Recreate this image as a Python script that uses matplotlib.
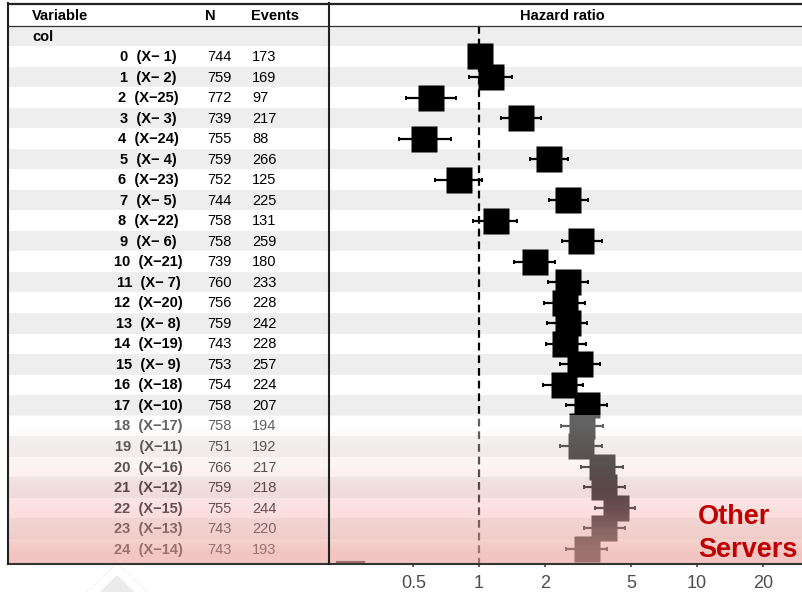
import numpy as np
import matplotlib
matplotlib.use('Agg')
import matplotlib.pyplot as plt
from matplotlib.ticker import NullLocator

# table data
rows = list(range(25))
codes = [1, 2, 25, 3, 24, 4, 23, 5, 22, 6, 21, 7, 20, 8, 19, 9, 18, 10, 17, 11, 16, 12, 15, 13, 14]
n_obs = [744, 759, 772, 739, 755, 759, 752, 744, 758, 758, 739, 760, 756,
         759, 743, 753, 754, 758, 758, 751, 766, 759, 755, 743, 743]
events = [173, 169, 97, 217, 88, 266, 125, 225, 131, 259, 180, 233, 228,
          242, 228, 257, 224, 207, 194, 192, 217, 218, 244, 220, 193]

# hazard ratios and 95% CI
hr = [1.01, 1.13, 0.60, 1.56, 0.56, 2.09, 0.81, 2.56, 1.19, 2.95, 1.80, 2.55, 2.47,
      2.55, 2.49, 2.89, 2.44, 3.12, 2.98, 2.95, 3.66, 3.76, 4.24, 3.76, 3.11]
hr_lo = [0.90, 0.90, 0.46, 1.26, 0.43, 1.71, 0.63, 2.09, 0.94, 2.41, 1.44, 2.07, 1.99,
         2.06, 2.02, 2.35, 1.97, 2.51, 2.38, 2.35, 2.93, 3.03, 3.40, 3.03, 2.50]
hr_hi = [1.13, 1.42, 0.78, 1.92, 0.74, 2.56, 1.03, 3.16, 1.50, 3.66, 2.24, 3.15, 3.05,
         3.13, 3.09, 3.57, 3.01, 3.85, 3.70, 3.66, 4.56, 4.66, 5.19, 4.68, 3.88]

x_ticks = [0.5, 1, 2, 5, 10, 20]
x_labels = ['0.5', '1', '2', '5', '10', '20']

W, H = 803, 592
plt.rcParams['font.family'] = ['Liberation Sans', 'DejaVu Sans']

fig = plt.figure(figsize=(W / 100, H / 100), dpi=100)


def px_box(x0, x1, y0, y1):
    return [x0 / W, 1 - y1 / H, (x1 - x0) / W, (y1 - y0) / H]


TOP, BOT = 3, 563
ROW0, ROWH = 56.5, 20.52
ylim = ((BOT - ROW0) / ROWH, (TOP - ROW0) / ROWH)
TXT = 10.5
base = 0.225  # baseline offset in row units

ax_t = fig.add_axes(px_box(8, 329, TOP, BOT))
ax_p = fig.add_axes(px_box(329, 803, TOP, BOT))
for ax in (ax_t, ax_p):
    ax.set_ylim(*ylim)
    for s in ax.spines.values():
        s.set_visible(False)
    ax.set_yticks([])
    for i in [-1] + rows[1::2]:
        ax.axhspan(i - 0.5, i + 0.5, color='#eeeeee', lw=0, zorder=0)

# table
ax_t.set_xlim(8, 329)
ax_t.set_xticks([])
ax_t.text(32, -1 + base, 'col', fontsize=TXT, fontweight='bold', va='baseline')
for i, k, n, e in zip(rows, codes, n_obs, events):
    ax_t.text(148.5, i + base, f'{i}  (X\u2212{k:>2})', fontsize=TXT, fontweight='bold',
              ha='center', va='baseline')
    ax_t.text(207, i + base, str(n), fontsize=TXT, va='baseline')
    ax_t.text(252, i + base, str(e), fontsize=TXT, va='baseline')

# forest plot
ax_p.set_xscale('log')
ax_p.set_xlim(0.205, 30.6)
ax_p.plot([1, 1], [-1.5, ylim[0]], color='black', lw=1.6, ls=(0, (3.5, 2.2)), zorder=2)
hr_a = np.array(hr)
xerr = [hr_a - np.array(hr_lo), np.array(hr_hi) - hr_a]
ax_p.errorbar(hr, rows, xerr=xerr, fmt='none', ecolor='black', elinewidth=1.6,
              capsize=1.5, capthick=1.4, zorder=3)
ax_p.plot(hr, rows, 's', ms=19.4, color='black', mec='none', zorder=4)
ax_p.set_xticks(x_ticks, labels=x_labels)
ax_p.xaxis.set_minor_locator(NullLocator())
ax_p.tick_params(axis='x', length=2.9, width=1.1, color='#333333', pad=5.5,
                 labelsize=13, labelcolor='#4d4d4d')

# overlay layer in pixel coordinates
ax_ov = fig.add_axes([0, 0, 1, 1], zorder=5)
ax_ov.set_xlim(0, W)
ax_ov.set_ylim(H, 0)
ax_ov.axis('off')

fade_alpha = [0.39, 0.37, 0.36, 0.37, 0.435, 0.566, 0.675]
fade_rgb = [(1, 1, 1), (0.97, 0.93, 0.92), (0.98, 0.87, 0.87), (0.95, 0.76, 0.76),
            (0.975, 0.72, 0.72), (0.956, 0.735, 0.707), (0.93, 0.67, 0.65)]
rgba = np.array([[list(c) + [a]] for c, a in zip(fade_rgb, fade_alpha)])
top_fade = ROW0 + 17.5 * ROWH
ax_ov.imshow(rgba, extent=(8, W, BOT, top_fade), aspect='auto',
             interpolation='bilinear', zorder=1)

# borders
ax_ov.plot([8, W], [3.5, 3.5], color='#222222', lw=1.6, zorder=3, solid_capstyle='butt')
ax_ov.plot([8, W], [25.5, 25.5], color='#333333', lw=0.9, zorder=3)
ax_ov.plot([8, W], [563.5, 563.5], color='#333333', lw=1.5, zorder=3)
ax_ov.plot([8.5, 8.5], [3, 564], color='#222222', lw=1.5, zorder=3)
ax_ov.plot([329.5, 329.5], [3, 564], color='#222222', lw=1.5, zorder=3)
ax_ov.plot([337, 364], [561.5, 561.5], color='#9c6b6b', lw=1.5, zorder=3)

# header
hdr = dict(fontsize=TXT, fontweight='bold', va='baseline', zorder=4)
ax_ov.text(32, 20, 'Variable', **hdr)
ax_ov.text(205, 20, 'N', **hdr)
ax_ov.text(251, 20, 'Events', **hdr)
ax_ov.text(562, 20, 'Hazard ratio', ha='center', **hdr)

# label
lab = dict(fontsize=19.5, fontweight='bold', color='#c00000', va='baseline', zorder=4)
ax_ov.text(698, 524, 'Other', **lab)
ax_ov.text(698, 557, 'Servers', **lab)

# faint marker below the table
ax_ov.fill([117, 100, 134], [575, 592, 592], color='#ebebeb', lw=0, zorder=2)
ax_ov.plot([87, 117, 148], [592, 563, 592], color='#dddddd', lw=0.7, ls=':', zorder=2)

fig.savefig('out.png', dpi=100)
